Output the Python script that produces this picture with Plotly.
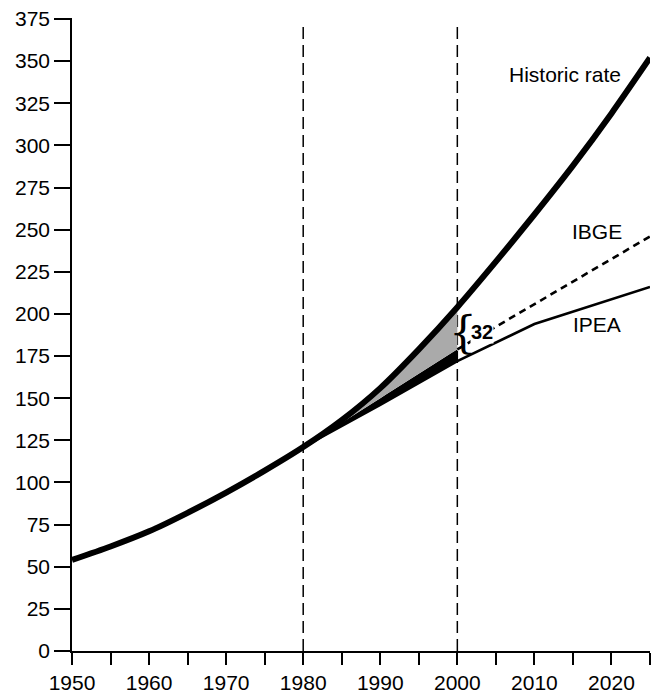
import plotly.graph_objects as go

# ---- data ----
hist_years = [1950, 1955, 1960, 1965, 1970, 1975, 1980, 1985, 1990, 1995, 2000, 2005, 2010, 2015, 2020, 2025]
hist_vals = [54, 62, 71, 82, 94, 107, 121, 137, 156, 179, 204, 231, 259, 288, 319, 352]

ibge_years = [1980, 1990, 2000, 2025]
ibge_vals = [121, 150, 179, 246]

ipea_years = [1980, 1990, 2000, 2010, 2025]
ipea_vals = [121, 146, 172, 194, 216]

gap_label = "32"
y_ticks = list(range(0, 376, 25))
x_ticks = list(range(1950, 2026, 5))
x_ticktext = [str(v) if v % 10 == 0 else "" for v in x_ticks]

FONT = "Liberation Sans, Arial, sans-serif"

fig = go.Figure()

# wedge 1980-2000: black between IPEA and IBGE, grey between IBGE and historic
w_ipea = [(x, y) for x, y in zip(ipea_years, ipea_vals) if 1980 <= x <= 2000]
w_ibge = [(x, y) for x, y in zip(ibge_years, ibge_vals) if 1980 <= x <= 2000]
w_hist = [(x, y) for x, y in zip(hist_years, hist_vals) if 1980 <= x <= 2000]

fig.add_trace(go.Scatter(x=[p[0] for p in w_ipea], y=[p[1] for p in w_ipea],
                         mode="lines", line=dict(width=0, color="black"),
                         hoverinfo="skip", showlegend=False))
fig.add_trace(go.Scatter(x=[p[0] for p in w_ibge], y=[p[1] for p in w_ibge],
                         mode="lines", line=dict(width=0, color="black", shape="spline"),
                         fill="tonexty", fillcolor="black",
                         hoverinfo="skip", showlegend=False))
fig.add_trace(go.Scatter(x=[p[0] for p in w_hist], y=[p[1] for p in w_hist],
                         mode="lines", line=dict(width=0, color="black", shape="spline"),
                         fill="tonexty", fillcolor="rgb(170,170,170)",
                         hoverinfo="skip", showlegend=False))

# IBGE projection (dashed) after 2000
ib_x = [x for x in ibge_years if x >= 2000]
ib_y = [y for x, y in zip(ibge_years, ibge_vals) if x >= 2000]
fig.add_trace(go.Scatter(x=ib_x, y=ib_y, mode="lines",
                         line=dict(color="black", width=2.6, dash="7px,5px"),
                         hoverinfo="skip", showlegend=False))

# IPEA projection
fig.add_trace(go.Scatter(x=ipea_years, y=ipea_vals, mode="lines",
                         line=dict(color="black", width=2.6),
                         hoverinfo="skip", showlegend=False))

# Historic rate
fig.add_trace(go.Scatter(x=hist_years, y=hist_vals, mode="lines",
                         line=dict(color="black", width=6, shape="spline", smoothing=0.8),
                         hoverinfo="skip", showlegend=False))

# vertical dashed reference lines
for xv in [1980, 2000]:
    fig.add_shape(type="line", x0=xv, x1=xv, y0=0, y1=372, xref="x", yref="y",
                  line=dict(color="black", width=1.5, dash="12px,6px"), layer="below")

# labels
fig.add_annotation(x=2014, y=342, text="Historic rate", showarrow=False,
                   font=dict(family=FONT, size=21, color="black"))
fig.add_annotation(x=2018.1, y=249, text="IBGE", showarrow=False,
                   font=dict(family=FONT, size=21, color="black"))
fig.add_annotation(x=2018.1, y=194, text="IPEA", showarrow=False,
                   font=dict(family=FONT, size=21, color="black"))
fig.add_annotation(x=2001.6, y=189, text="<b>" + gap_label + "</b>", showarrow=False,
                   xanchor="left", bgcolor="white", borderpad=0,
                   font=dict(family=FONT, size=20, color="black"))
fig.add_annotation(x=1998.8, y=189, text="{", showarrow=False, xanchor="left",
                   borderpad=0,
                   font=dict(family="DejaVu Serif, serif", size=44, color="black"))

fig.update_layout(
    width=653, height=686,
    margin=dict(l=64, r=11, t=10, b=43),
    paper_bgcolor="white", plot_bgcolor="white",
    showlegend=False,
    font=dict(family=FONT, size=21, color="black"),
    xaxis=dict(range=[1950, 2025], tickvals=x_ticks, ticktext=x_ticktext,
               ticks="outside", ticklen=12, tickwidth=1.5, tickcolor="black",
               showline=True, linecolor="black", linewidth=1.5,
               showgrid=False, zeroline=False, automargin=False,
               ticklabeloverflow="allow",
               tickfont=dict(family=FONT, size=21, color="black")),
    yaxis=dict(range=[0, 375.6], tickvals=y_ticks,
               ticks="outside", ticklen=16, tickwidth=1.5, tickcolor="black",
               showline=True, linecolor="black", linewidth=1.5,
               showgrid=False, zeroline=False, automargin=False,
               ticklabeloverflow="allow",
               tickfont=dict(family=FONT, size=21, color="black")),
)

fig.write_html("out.html")
